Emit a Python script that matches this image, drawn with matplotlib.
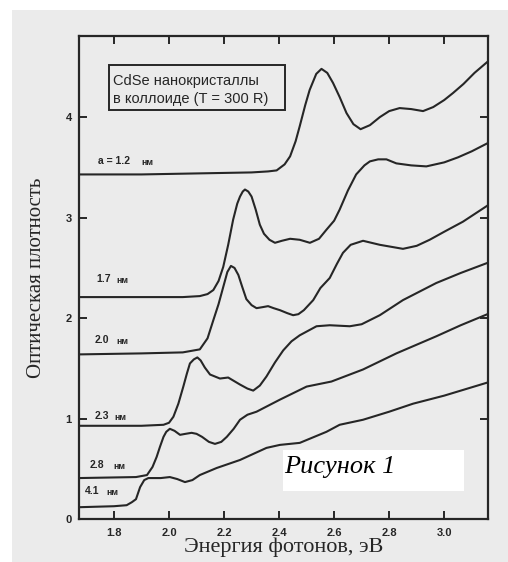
import matplotlib
matplotlib.use("Agg")
import matplotlib.pyplot as plt
from matplotlib.patches import Rectangle

# ---------------- data ----------------
x_12 = [1.672, 1.9, 2.1, 2.3, 2.36, 2.391, 2.42, 2.44, 2.46, 2.475, 2.495, 2.511, 2.535, 2.554, 2.575,
        2.596, 2.62, 2.645, 2.67, 2.696, 2.73, 2.766, 2.80, 2.838, 2.88, 2.923, 2.96, 3.0, 3.032,
        3.07, 3.11, 3.157]
y_12 = [3.43, 3.43, 3.44, 3.45, 3.46, 3.47, 3.53, 3.61, 3.76, 3.91, 4.12, 4.27, 4.43, 4.48, 4.44,
        4.34, 4.20, 4.04, 3.93, 3.88, 3.92, 4.00, 4.06, 4.09, 4.08, 4.06, 4.10, 4.17, 4.24,
        4.33, 4.44, 4.55]

x_17 = [1.672, 1.9, 2.05, 2.112, 2.14, 2.161, 2.18, 2.197, 2.215, 2.233, 2.248, 2.258, 2.268, 2.276,
        2.288, 2.30, 2.315, 2.33, 2.345, 2.365, 2.385, 2.41, 2.44, 2.475, 2.512, 2.545, 2.572,
        2.60, 2.62, 2.65, 2.68, 2.71, 2.73, 2.76, 2.79, 2.826, 2.88, 2.935, 3.0, 3.05, 3.10, 3.157]
y_17 = [2.21, 2.21, 2.21, 2.22, 2.24, 2.28, 2.37, 2.51, 2.73, 2.98, 3.14, 3.21, 3.26, 3.28,
        3.26, 3.21, 3.08, 2.93, 2.84, 2.78, 2.75, 2.77, 2.79, 2.78, 2.75, 2.79, 2.88,
        2.97, 3.08, 3.27, 3.43, 3.52, 3.56, 3.58, 3.58, 3.54, 3.52, 3.51, 3.55, 3.60, 3.66, 3.74]

x_20 = [1.672, 1.9, 2.05, 2.112, 2.14, 2.161, 2.18, 2.197, 2.212, 2.225, 2.238, 2.252, 2.265, 2.281,
        2.30, 2.318, 2.34, 2.36, 2.38, 2.403, 2.43, 2.451, 2.47, 2.49, 2.524, 2.55, 2.584, 2.61,
        2.632, 2.66, 2.705, 2.766, 2.85, 2.90, 2.947, 3.0, 3.068, 3.157]
y_20 = [1.64, 1.65, 1.66, 1.69, 1.80, 1.98, 2.14, 2.31, 2.46, 2.52, 2.50, 2.43, 2.32, 2.19,
        2.13, 2.10, 2.11, 2.12, 2.10, 2.08, 2.05, 2.03, 2.04, 2.08, 2.18, 2.30, 2.40, 2.54,
        2.65, 2.73, 2.77, 2.73, 2.69, 2.72, 2.78, 2.86, 2.96, 3.12]

x_23 = [1.672, 1.9, 1.98, 2.0, 2.016, 2.034, 2.052, 2.065, 2.076, 2.09, 2.103, 2.115, 2.13, 2.149,
        2.185, 2.215, 2.258, 2.285, 2.306, 2.33, 2.354, 2.385, 2.415, 2.445, 2.475, 2.536, 2.584,
        2.657, 2.70, 2.766, 2.85, 2.971, 3.06, 3.157]
y_23 = [0.93, 0.93, 0.94, 0.96, 1.02, 1.15, 1.32, 1.45, 1.55, 1.59, 1.61, 1.58, 1.51, 1.44,
        1.40, 1.41, 1.34, 1.30, 1.28, 1.33, 1.42, 1.56, 1.68, 1.77, 1.83, 1.92, 1.93,
        1.92, 1.94, 2.03, 2.18, 2.35, 2.45, 2.55]

x_28 = [1.672, 1.88, 1.92, 1.94, 1.955, 1.967, 1.98, 1.99, 2.003, 2.02, 2.04, 2.06, 2.082, 2.10,
        2.12, 2.145, 2.167, 2.19, 2.21, 2.235, 2.258, 2.285, 2.318, 2.403, 2.5, 2.59, 2.705, 2.826,
        2.971, 3.06, 3.157]
y_28 = [0.41, 0.42, 0.44, 0.52, 0.62, 0.72, 0.82, 0.87, 0.90, 0.88, 0.84, 0.85, 0.86, 0.85,
        0.82, 0.77, 0.75, 0.77, 0.82, 0.90, 0.99, 1.04, 1.07, 1.19, 1.32, 1.37, 1.49, 1.65,
        1.82, 1.93, 2.04]

x_41 = [1.672, 1.80, 1.846, 1.865, 1.88, 1.895, 1.91, 1.925, 1.945, 1.97, 2.003, 2.03, 2.058, 2.085,
        2.112, 2.173, 2.258, 2.354, 2.403, 2.475, 2.572, 2.62, 2.705, 2.80, 2.887, 3.0, 3.157]
y_41 = [0.12, 0.13, 0.14, 0.17, 0.20, 0.32, 0.39, 0.41, 0.41, 0.41, 0.42, 0.40, 0.37, 0.39,
        0.44, 0.51, 0.59, 0.71, 0.74, 0.76, 0.87, 0.94, 0.99, 1.07, 1.15, 1.23, 1.36]

x_ticks = [1.8, 2.0, 2.2, 2.4, 2.6, 2.8, 3.0]
x_ticklabels = ["1.8", "2.0", "2.2", "2.4", "2.6", "2.8", "3.0"]
y_ticks = [0, 1, 2, 3, 4]
y_ticklabels = ["0", "1", "2", "3", "4"]

size_numbers = ["a = 1.2", "1.7", "2.0", "2.3", "2.8", "4.1"]
unit = "нм"

# ---------------- figure ----------------
BG = "#ebebeb"
INK = "#262626"
fig = plt.figure(figsize=(5.08, 5.62), dpi=100, facecolor="white")
fig.patches.append(Rectangle((11.5 / 508, 0), 1, (562 - 9.5) / 562, transform=fig.transFigure,
                             facecolor=BG, edgecolor="none", zorder=-10))
ax = fig.add_axes([0.155, 0.076, 0.8056, 0.8605])
ax.set_facecolor(BG)

for xs, ys in [(x_12, y_12), (x_17, y_17), (x_20, y_20), (x_23, y_23), (x_28, y_28), (x_41, y_41)]:
    ax.plot(xs, ys, color=INK, lw=1.5, solid_joinstyle="round", solid_capstyle="round")

ax.set_xlim(1.672, 3.159)
ax.set_ylim(0, 4.81)
ax.set_xticks(x_ticks)
ax.set_xticklabels(x_ticklabels)
ax.set_yticks(y_ticks)
ax.set_yticklabels(y_ticklabels)
for lab in ax.get_xticklabels() + ax.get_yticklabels():
    lab.set_fontweight("bold")
    lab.set_fontsize(8)
    lab.set_color(INK)
    lab.set_family("Liberation Sans")
ax.tick_params(direction="in", length=6, width=1.4, color=INK, top=True, right=True)
ax.tick_params(axis="x", pad=6)
ax.tick_params(axis="y", pad=5)
for s in ax.spines.values():
    s.set_linewidth(1.6)
    s.set_color(INK)

ax.set_xlabel("Энергия фотонов, эВ", family="Liberation Serif", fontsize=16, color=INK, labelpad=0)
ax.set_ylabel("Оптическая плотность", family="Liberation Serif", fontsize=15, color=INK, labelpad=14)

# size labels: number positions and unit positions (data coordinates)
num_x = [1.742, 1.735, 1.731, 1.731, 1.713, 1.695]
unit_x = [1.900, 1.807, 1.807, 1.800, 1.797, 1.772]
lab_y = [3.56, 2.39, 1.78, 1.03, 0.54, 0.28]
for n, nx, ux, ly in zip(size_numbers, num_x, unit_x, lab_y):
    ax.text(nx, ly, n, fontsize=7.5, fontweight="bold", color=INK, va="center", ha="left",
            family="Liberation Sans")
    ax.text(ux, ly - 0.015, unit, fontsize=6.5, fontweight="bold", color=INK, va="center", ha="left",
            family="Liberation Sans")

# legend-like box
ax.add_patch(Rectangle((0.0743, 0.8464), 0.4301, 0.093, transform=ax.transAxes,
                       facecolor="none", edgecolor=INK, lw=1.4, zorder=4))
ax.text(0.083, 0.9066, "CdSe нанокристаллы", transform=ax.transAxes, fontsize=10.5,
        color=INK, va="center", ha="left", family="Liberation Sans")
ax.text(0.083, 0.8688, "в коллоиде (T = 300 R)", transform=ax.transAxes, fontsize=10.5,
        color=INK, va="center", ha="left", family="Liberation Sans")

# "Рисунок 1" white box
ax.add_patch(Rectangle((0.4984, 0.0591), 0.443, 0.0842, transform=ax.transAxes,
                       facecolor="white", edgecolor="none", zorder=5))
ax.text(0.5016, 0.0951, "Рисунок 1", transform=ax.transAxes, fontsize=19, style="italic",
        family="Liberation Serif", color="black", va="baseline", ha="left", zorder=6)

fig.savefig("out.png", dpi=100, facecolor=fig.get_facecolor())
